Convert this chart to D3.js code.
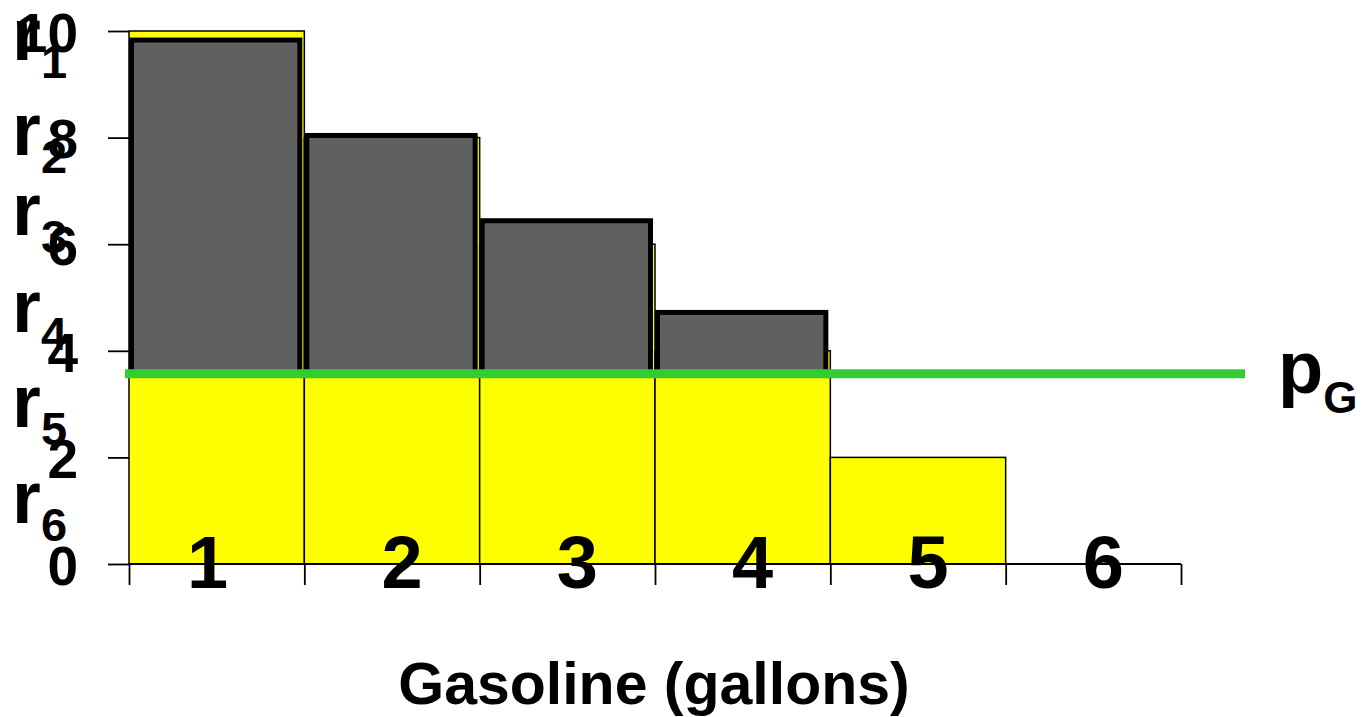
<!DOCTYPE html>
<html>
<head>
<meta charset="utf-8">
<script src="https://cdn.jsdelivr.net/npm/d3@7"></script>
<style>
  html, body { margin: 0; padding: 0; background: #fff; }
  svg { display: block; }
  text { font-family: "Liberation Sans", Arial, sans-serif; font-weight: bold; fill: #000; }
</style>
</head>
<body>
<svg id="chart" width="1365" height="717"></svg>
<script>
// ---- data ----
const categories = ["1", "2", "3", "4", "5", "6"];
const reservationValues = [10, 8, 6, 4, 2, 0];          // yellow bars
const surplusTops = [9.83, 8.04, 6.44, 4.72];           // gray bars (top value)
const priceG = 3.57;                                     // green price line
const yTicks = [0, 2, 4, 6, 8, 10];
const rSubscripts = ["1", "2", "3", "4", "5", "6"];
const rLabelValues = [9.46, 7.67, 6.17, 4.35, 2.57, 0.77];
const xTitle = "Gasoline (gallons)";
const priceLabel = "p";
const priceSub = "G";

// ---- layout ----
const svg = d3.select("#chart");
const plotLeft = 129, plotRight = 1181, plotTop = 31, plotBottom = 564;

const x = d3.scaleBand().domain(categories).range([plotLeft, plotRight]).paddingInner(0).paddingOuter(0);
const xEdge = d3.scaleLinear().domain([0, categories.length]).range([plotLeft, plotRight]);
const y = d3.scaleLinear().domain([0, 10]).range([plotBottom, plotTop]);

// yellow bars
svg.append("g").selectAll("rect")
  .data(categories.map((c, i) => ({ c, v: reservationValues[i] })).filter(d => d.v > 0))
  .join("rect")
  .attr("x", d => x(d.c))
  .attr("y", d => y(d.v))
  .attr("width", x.bandwidth())
  .attr("height", d => y(0) - y(d.v))
  .attr("fill", "#ffff00")
  .attr("stroke", "#000")
  .attr("stroke-width", 1.5);

// gray surplus bars
svg.append("g").selectAll("rect")
  .data(surplusTops.map((v, i) => ({ c: categories[i], v })))
  .join("rect")
  .attr("x", d => x(d.c) + 2.5)
  .attr("y", d => y(d.v))
  .attr("width", x.bandwidth() - 7)
  .attr("height", d => y(priceG) - y(d.v))
  .attr("fill", "#606060")
  .attr("stroke", "#000")
  .attr("stroke-width", 5);

// green price line
svg.append("line")
  .attr("x1", plotLeft - 4)
  .attr("x2", plotRight + 64)
  .attr("y1", y(priceG))
  .attr("y2", y(priceG))
  .attr("stroke", "#33cc33")
  .attr("stroke-width", 9);

// x axis (ticks at band edges)
const xAxisG = svg.append("g")
  .attr("transform", `translate(0,${plotBottom})`)
  .call(d3.axisBottom(xEdge).tickValues(d3.range(0, categories.length + 1)).tickSize(21).tickFormat(""));
xAxisG.select(".domain").attr("stroke", "#000").attr("stroke-width", 2).attr("d", `M${plotLeft},0H${plotRight}`);
xAxisG.selectAll(".tick line").attr("stroke", "#000").attr("stroke-width", 1.8);

// category labels
svg.append("g").selectAll("text")
  .data(categories)
  .join("text")
  .attr("x", (d, i) => x(d) + x.bandwidth() / 2 + (i === 0 ? -9 : 10))
  .attr("y", 588)
  .attr("text-anchor", "middle")
  .attr("font-size", 74)
  .text(d => d);

// y axis
const yAxisG = svg.append("g")
  .attr("transform", `translate(${plotLeft},0)`)
  .call(d3.axisLeft(y).tickValues(yTicks).tickSize(21).tickPadding(30).tickFormat(d3.format("d")));
yAxisG.select(".domain").remove();
yAxisG.selectAll(".tick line").attr("stroke", "#000").attr("stroke-width", 1.8);
yAxisG.selectAll(".tick text")
  .attr("font-size", 55)
  .attr("font-family", "'Liberation Sans', Arial, sans-serif")
  .attr("font-weight", "bold")
  .attr("fill", "#000")
  .attr("dy", "0.37em");

// r labels
const rG = svg.append("g");
rSubscripts.forEach((s, i) => {
  const t = rG.append("text")
    .attr("x", 12)
    .attr("y", y(rLabelValues[i]))
    .attr("font-size", 74);
  t.append("tspan").text("r");
  t.append("tspan").attr("font-size", 47).attr("x", 41).attr("dy", 18).text(s);
});

// price label
const pt = svg.append("text")
  .attr("x", 1278)
  .attr("y", y(priceG) + 19)
  .attr("font-size", 74);
pt.append("tspan").text(priceLabel);
pt.append("tspan").attr("font-size", 44).attr("dy", 20).text(priceSub);

// x title
svg.append("text")
  .attr("x", 654)
  .attr("y", 704)
  .attr("text-anchor", "middle")
  .attr("font-size", 59)
  .text(xTitle);
</script>
</body>
</html>
